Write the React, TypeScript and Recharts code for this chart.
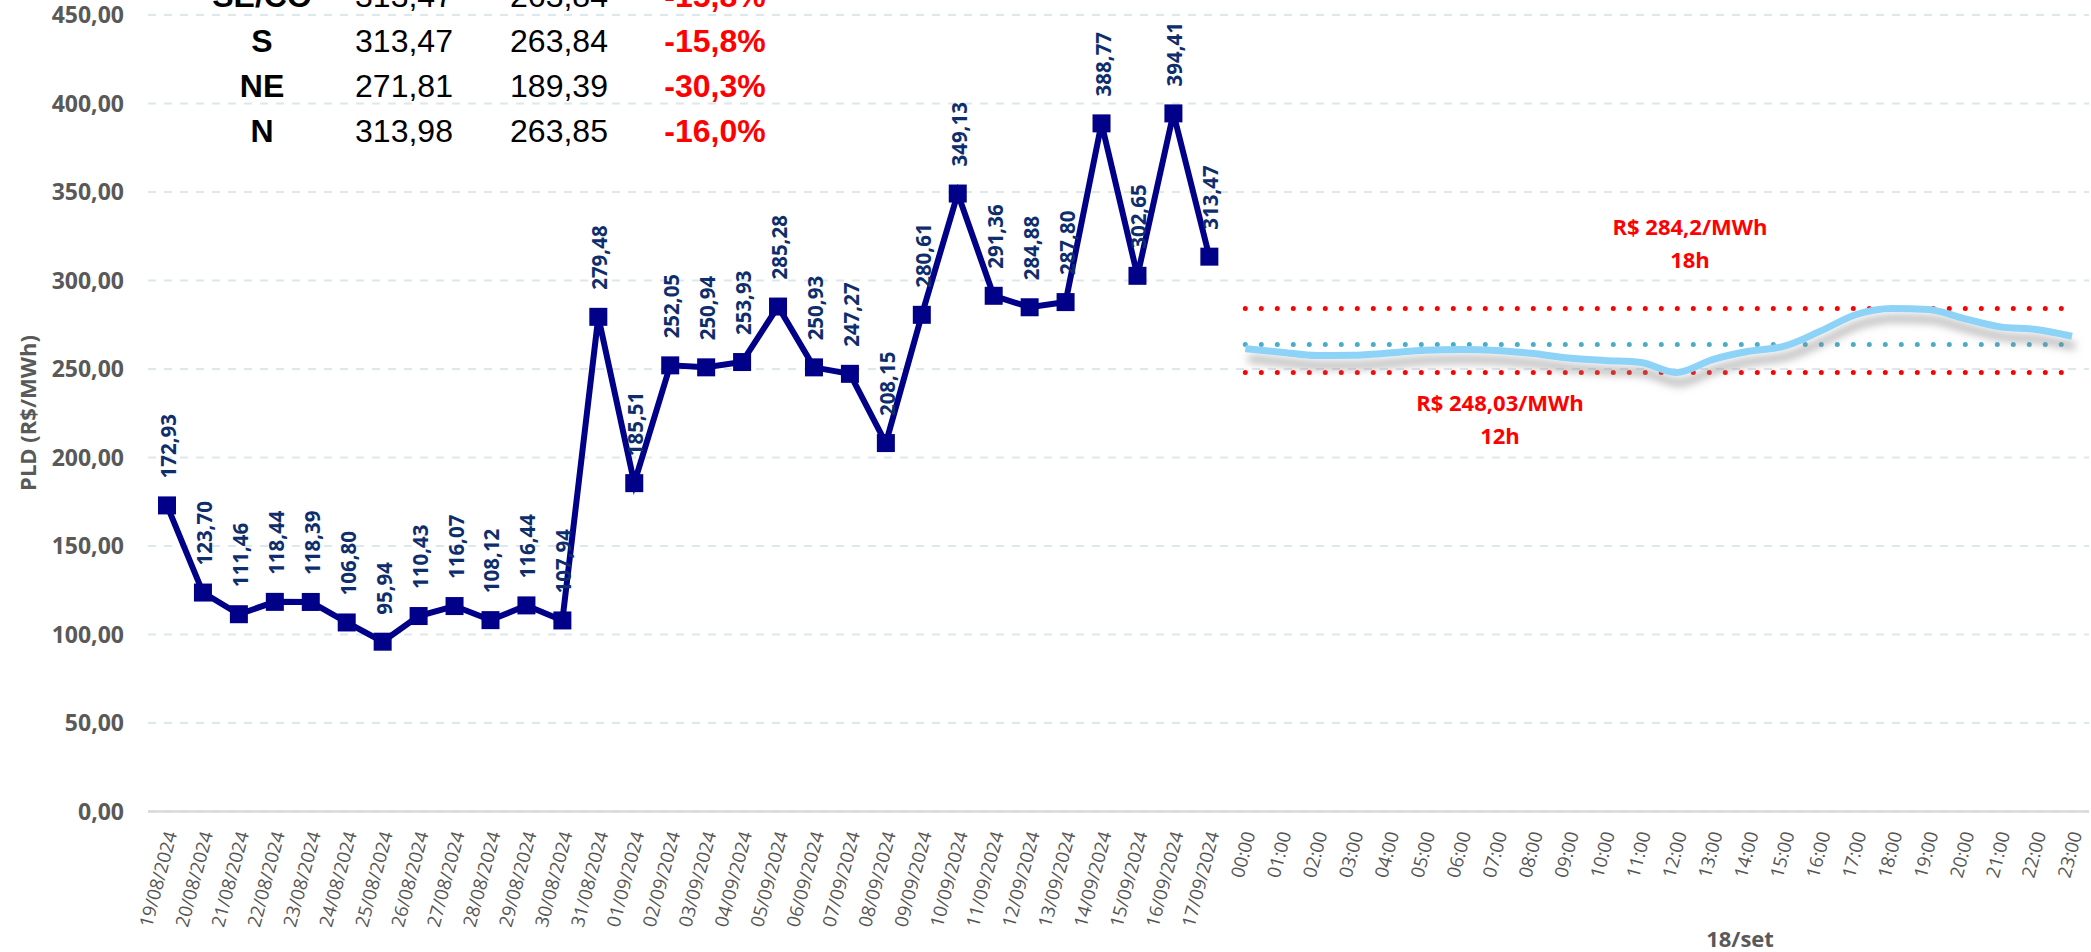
import { CartesianGrid, LabelList, Line, LineChart, XAxis, YAxis } from "recharts";

const FONT = '"Open Sans", "DejaVu Sans", sans-serif';
const TABLE_FONT = '"Liberation Sans", Arial, sans-serif';

const days = [
  "19/08/2024", "20/08/2024", "21/08/2024", "22/08/2024", "23/08/2024", "24/08/2024",
  "25/08/2024", "26/08/2024", "27/08/2024", "28/08/2024", "29/08/2024", "30/08/2024",
  "31/08/2024", "01/09/2024", "02/09/2024", "03/09/2024", "04/09/2024", "05/09/2024",
  "06/09/2024", "07/09/2024", "08/09/2024", "09/09/2024", "10/09/2024", "11/09/2024",
  "12/09/2024", "13/09/2024", "14/09/2024", "15/09/2024", "16/09/2024", "17/09/2024",
];
const dailyPld = [
  172.93, 123.7, 111.46, 118.44, 118.39, 106.8, 95.94, 110.43, 116.07, 108.12, 116.44, 107.94,
  279.48, 185.51, 252.05, 250.94, 253.93, 285.28, 250.93, 247.27, 208.15, 280.61, 349.13, 291.36,
  284.88, 287.8, 388.77, 302.65, 394.41, 313.47,
];

const hours = [
  "00:00", "01:00", "02:00", "03:00", "04:00", "05:00", "06:00", "07:00", "08:00", "09:00", "10:00", "11:00",
  "12:00", "13:00", "14:00", "15:00", "16:00", "17:00", "18:00", "19:00", "20:00", "21:00", "22:00", "23:00",
];
const hourlyPld = [
  261.5, 259.5, 257.6, 257.8, 259.0, 260.6, 261.0, 260.4, 258.7, 256.2, 254.8, 253.7,
  248.03, 255.3, 260.0, 262.9, 271.4, 280.8, 284.2, 283.6, 278.5, 273.8, 272.3, 268.5,
];
const hourMax = 284.2;
const hourMin = 248.03;
const hourAvg = 263.84;

const yTicks = [0, 50, 100, 150, 200, 250, 300, 350, 400, 450];

// resumo por submercado (topo)
const regions = ["SE/CO", "S", "NE", "N"];
const prevValues = ["313,47", "313,47", "271,81", "313,98"];
const todayValues = ["263,84", "263,84", "189,39", "263,85"];
const changes = ["-15,8%", "-15,8%", "-30,3%", "-16,0%"];

const data = [
  ...days.map((d, i) => ({ label: d, pld: dailyPld[i] })),
  ...hours.map((h, i) => ({ label: h, hourly: hourlyPld[i], max: hourMax, min: hourMin, avg: hourAvg })),
];

const fmt = (v: number) => v.toFixed(2).replace(".", ",");

function CategoryTick({ x, y, payload }: any) {
  return (
    <text
      transform={`translate(${x + 3},${y + 20}) rotate(-75)`}
      textAnchor="end"
      dominantBaseline="central"
      fontSize={18.5}
      fill="#555555"
      fontFamily={FONT}
    >
      {payload.value}
    </text>
  );
}

function SquareDot(p: any) {
  if (p.cx == null || p.cy == null || p.value == null) return <g key={`d${p.index}`} />;
  return <rect key={`d${p.index}`} x={p.cx - 9} y={p.cy - 9} width={18} height={18} fill="#000088" />;
}

function DailyLabel(p: any) {
  if (p.value == null || p.x == null || p.y == null) return null;
  return (
    <text
      transform={`translate(${p.x + 1},${p.y - 27}) rotate(-90)`}
      textAnchor="start"
      dominantBaseline="central"
      fontSize={20.5}
      fontWeight={700}
      fill="#0e2d6d"
      fontFamily={FONT}
    >
      {fmt(Number(p.value))}
    </text>
  );
}

const cols = [262, 404, 559, 715];
const rowY = [-4, 41, 86, 131];

function Cell({ cx, cy, text, bold, color }: { cx: number; cy: number; text: string; bold?: boolean; color?: string }) {
  return (
    <div
      style={{
        position: "absolute",
        left: cx - 80,
        top: cy - 22,
        width: 160,
        height: 45,
        lineHeight: "45px",
        textAlign: "center",
        fontFamily: TABLE_FONT,
        fontSize: 32,
        fontWeight: bold ? 700 : 400,
        color: color ?? "#000",
        whiteSpace: "nowrap",
      }}
    >
      {text}
    </div>
  );
}

const noteStyle = {
  position: "absolute" as const,
  width: 260,
  textAlign: "center" as const,
  fontFamily: FONT,
  fontSize: 22,
  fontWeight: 700,
  lineHeight: "33px",
  color: "#ff0000",
  whiteSpace: "nowrap" as const,
};

export default function App() {
  return (
    <div style={{ position: "absolute", left: 0, top: 0, width: 2091, height: 952, background: "#fff", overflow: "hidden" }}>
      <LineChart width={2091} height={952} data={data} margin={{ top: 15, right: 2, bottom: 0, left: 0 }}>
        <defs>
          <filter id="hourShadow" x="-5%" y="-60%" width="110%" height="320%">
            <feDropShadow dx="3" dy="10" stdDeviation="4" floodColor="#8a8a8a" floodOpacity="0.65" />
          </filter>
        </defs>
        <CartesianGrid vertical={false} stroke="#dde8ea" strokeWidth={2} strokeDasharray="8 8" />
        <XAxis
          dataKey="label"
          interval={0}
          padding={{ left: 19, right: 17 }}
          tick={<CategoryTick />}
          tickLine={false}
          tickSize={0}
          tickMargin={0}
          height={140.5}
          axisLine={{ stroke: "#d9d9d9", strokeWidth: 2.5 }}
        />
        <YAxis
          domain={[0, 450]}
          ticks={yTicks}
          width={148}
          axisLine={false}
          tickLine={false}
          tickSize={0}
          tickMargin={24}
          tickFormatter={fmt}
          tick={{ fontSize: 23, fontWeight: 700, fill: "#595959", fontFamily: FONT }}
        />
        <Line dataKey="max" stroke="#ff0000" strokeWidth={5} strokeDasharray="0 16" strokeLinecap="round" dot={false} activeDot={false} isAnimationActive={false} />
        <Line dataKey="min" stroke="#ff0000" strokeWidth={5} strokeDasharray="0 16" strokeLinecap="round" dot={false} activeDot={false} isAnimationActive={false} />
        <Line dataKey="avg" stroke="#4bacc6" strokeWidth={5} strokeDasharray="0 16" strokeLinecap="round" dot={false} activeDot={false} isAnimationActive={false} />
        <Line
          dataKey="hourly"
          type="monotone"
          stroke="#8dd3f8"
          strokeWidth={7}
          filter="url(#hourShadow)"
          dot={false}
          activeDot={false}
          isAnimationActive={false}
        />
        <Line
          dataKey="pld"
          type="linear"
          stroke="#000088"
          strokeWidth={6}
          dot={SquareDot}
          activeDot={false}
          isAnimationActive={false}
        >
          <LabelList dataKey="pld" content={DailyLabel} />
        </Line>
      </LineChart>

      <div
        style={{
          position: "absolute",
          left: 27,
          top: 413,
          transform: "translate(-50%, -50%) rotate(-90deg)",
          fontFamily: FONT,
          fontSize: 22,
          fontWeight: 700,
          color: "#595959",
          whiteSpace: "nowrap",
        }}
      >
        PLD (R$/MWh)
      </div>

      <div
        style={{
          position: "absolute",
          left: 1740,
          top: 938,
          transform: "translate(-50%, -50%)",
          fontFamily: FONT,
          fontSize: 22,
          fontWeight: 700,
          color: "#595959",
          whiteSpace: "nowrap",
        }}
      >
        18/set
      </div>

      <div style={{ ...noteStyle, left: 1690 - 130, top: 210 }}>
        R$ 284,2/MWh
        <br />
        18h
      </div>
      <div style={{ ...noteStyle, left: 1500 - 130, top: 386 }}>
        R$ 248,03/MWh
        <br />
        12h
      </div>

      {regions.map((r, i) => (
        <div key={r}>
          <Cell cx={cols[0]} cy={rowY[i]} text={r} bold />
          <Cell cx={cols[1]} cy={rowY[i]} text={prevValues[i]} />
          <Cell cx={cols[2]} cy={rowY[i]} text={todayValues[i]} />
          <Cell cx={cols[3]} cy={rowY[i]} text={changes[i]} bold color="#ff0000" />
        </div>
      ))}
    </div>
  );
}
